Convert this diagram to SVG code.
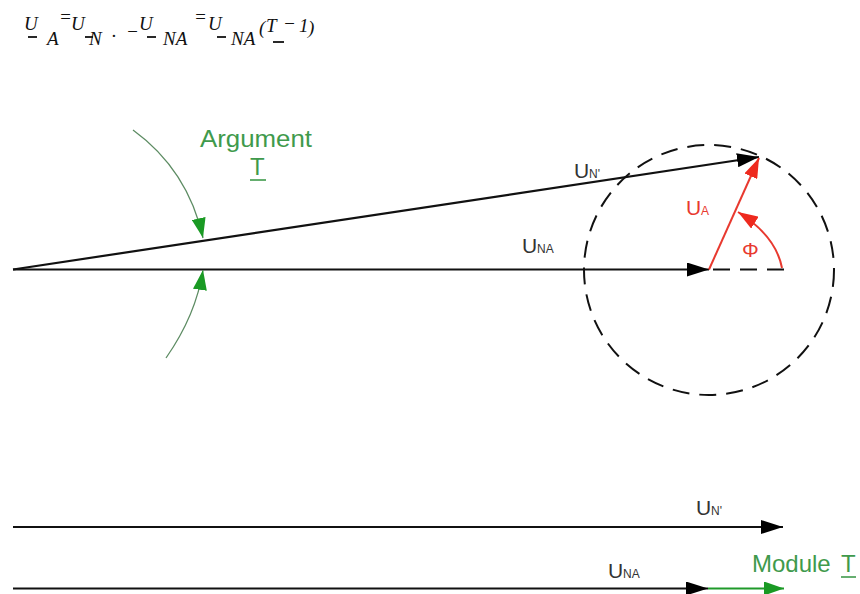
<svg xmlns="http://www.w3.org/2000/svg" width="860" height="594" viewBox="0 0 860 594">
<defs>
<style>
.eq{font-family:"Liberation Serif",serif;font-style:italic;font-size:19px;fill:#111}
.lbl{font-family:"Liberation Sans",Arial,sans-serif;font-size:21px;fill:#333}
.sub{font-family:"Liberation Sans",Arial,sans-serif;font-size:12px;fill:#333}
.red{fill:#e8392f}
.grn{font-family:"Liberation Sans",Arial,sans-serif;font-size:24px;fill:#3f9a4c}
.blk{stroke:#111;stroke-width:2.2;fill:none}
.rl{stroke:#e8392f;stroke-width:2;fill:none}
.gl{stroke:#5d8c63;stroke-width:1.3;fill:none}
.gl2{stroke:#1f9a2a;stroke-width:2.2;fill:none}
.dash{stroke:#111;stroke-width:2;fill:none;stroke-dasharray:17 10}
</style>
<marker id="ab" markerUnits="userSpaceOnUse" markerWidth="22" markerHeight="14" refX="22" refY="7" orient="auto"><path d="M0,0 L22,7 L0,14 z" fill="#000"/></marker>
<marker id="ar" markerUnits="userSpaceOnUse" markerWidth="20" markerHeight="14" refX="20" refY="7" orient="auto"><path d="M0,0 L20,7 L0,14 z" fill="#ee2a1e"/></marker>
<marker id="ag" markerUnits="userSpaceOnUse" markerWidth="20" markerHeight="14" refX="20" refY="7" orient="auto"><path d="M0,0 L20,7 L0,14 z" fill="#1a9a24"/></marker>
</defs>

<g id="equation">
<text class="eq" x="24" y="30">U</text>
<text class="eq" x="47" y="45">A</text>
<text class="eq" x="59" y="23" font-size="15">=</text>
<text class="eq" x="71" y="30">U</text>
<text class="eq" x="89" y="45">N</text>
<text class="eq" x="112" y="37" font-size="9">.</text>
<text class="eq" x="126" y="38">−</text>
<text class="eq" x="139" y="30">U</text>
<text class="eq" x="163" y="45">NA</text>
<text class="eq" x="194" y="23" font-size="15">=</text>
<text class="eq" x="208" y="30">U</text>
<text class="eq" x="231" y="45">NA</text>
<text class="eq" x="259" y="34">(</text>
<text class="eq" x="266" y="32">T</text>
<text class="eq" x="283" y="30">−</text>
<text class="eq" x="299" y="32">1</text>
<text class="eq" x="308" y="34">)</text>
<g stroke="#111" stroke-width="1.8">
<line x1="28" y1="37" x2="37" y2="37"/>
<line x1="85" y1="37" x2="93" y2="37"/>
<line x1="147" y1="37" x2="156" y2="37"/>
<line x1="217" y1="37" x2="226" y2="37"/>
<line x1="273" y1="42" x2="284" y2="42"/>
</g>
</g>

<g id="connectors">
<line class="blk" x1="13" y1="269.5" x2="709" y2="269.5" marker-end="url(#ab)"/>
<line class="blk" x1="13" y1="269.5" x2="759" y2="157" marker-end="url(#ab)"/>
<circle class="dash" cx="709" cy="270" r="125"/>
<line class="dash" x1="713" y1="269.5" x2="794" y2="269.5" stroke-dasharray="14 10"/>
<line class="rl" x1="709" y1="269.5" x2="759" y2="158" marker-end="url(#ar)"/>
<path class="rl" d="M782,268 Q776,236 738,212" marker-end="url(#ar)"/>
<path class="gl" d="M133,130 Q188,170 203,238" marker-end="url(#ag)"/>
<path class="gl" d="M166,358 Q196,315 203,270" marker-end="url(#ag)"/>
<line class="blk" x1="13" y1="527" x2="783" y2="527" marker-end="url(#ab)"/>
<line class="blk" x1="13" y1="588.5" x2="708" y2="588.5" marker-end="url(#ab)"/>
<line class="gl2" x1="708" y1="588.5" x2="784" y2="588.5" marker-end="url(#ag)"/>
</g>

<g id="label-argument">
<text class="grn" x="200" y="147" textLength="112" lengthAdjust="spacingAndGlyphs">Argument</text>
<text class="grn" x="250" y="175">T</text>
<line x1="250" y1="180" x2="266" y2="180" stroke="#3f9a4c" stroke-width="1.6"/>
</g>

<g id="label-UN-top">
<text class="lbl" x="574" y="178">U</text>
<text class="sub" x="589" y="178">N'</text>
</g>
<g id="label-UNA-top">
<text class="lbl" x="522" y="253">U</text>
<text class="sub" x="537" y="253">NA</text>
</g>
<g id="label-UA">
<text class="lbl red" x="686" y="215">U</text>
<text class="sub red" x="701" y="215">A</text>
</g>
<g id="label-phi">
<text class="lbl red" x="742" y="257" font-size="20">Φ</text>
</g>

<g id="label-UN-bottom">
<text class="lbl" x="696" y="515">U</text>
<text class="sub" x="711" y="515">N'</text>
</g>
<g id="label-UNA-bottom">
<text class="lbl" x="608" y="578">U</text>
<text class="sub" x="623" y="578">NA</text>
</g>
<g id="label-module">
<text class="grn" x="752" y="572">Module</text>
<text class="grn" x="841" y="572">T</text>
<line x1="841" y1="577" x2="856" y2="577" stroke="#3f9a4c" stroke-width="1.6"/>
</g>
</svg>
